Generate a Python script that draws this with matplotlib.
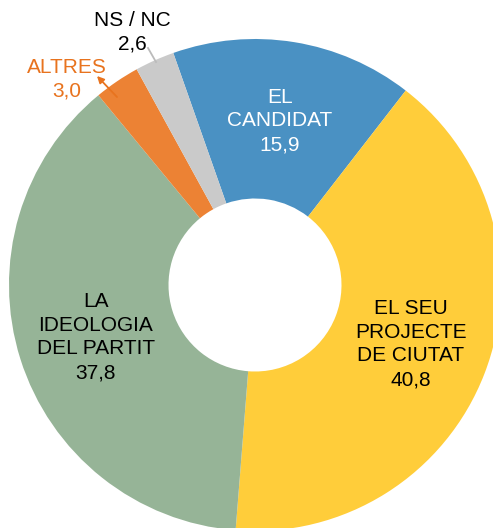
import matplotlib.pyplot as plt

labels = ['EL\nCANDIDAT', 'EL SEU\nPROJECTE\nDE CIUTAT', 'LA\nIDEOLOGIA\nDEL PARTIT', 'ALTRES', 'NS / NC']
values = [15.9, 40.8, 37.8, 3.0, 2.6]
colors = ['#4A91C3', '#FFCD3A', '#96B497', '#EC8234', '#CACACA']

plt.rcParams['font.family'] = ['Liberation Sans', 'DejaVu Sans']

fig = plt.figure(figsize=(4.93, 5.28), dpi=100)
ax = fig.add_axes([0, 0, 1, 1])

H = 528
cx, cy, r = 255, H - 285, 246
ax.pie(values, colors=colors, startangle=109.4, counterclock=False,
       center=(cx, cy), radius=r, frame=True,
       wedgeprops=dict(width=r - 86.5, linewidth=0))
ax.set_xlim(0, 493)
ax.set_ylim(0, 528)
ax.set_aspect('equal')
ax.axis('off')

def val(v):
    return f'{v:.1f}'.replace('.', ',')

fs = 15
ls = 1.32
ax.text(280, H - 121, labels[0] + '\n' + val(values[0]), color='white', fontsize=fs,
        ha='center', va='center', linespacing=ls)
ax.text(411, H - 344, labels[1] + '\n' + val(values[1]), color='black', fontsize=fs,
        ha='center', va='center', linespacing=ls)
ax.text(96, H - 337, labels[2] + '\n' + val(values[2]), color='black', fontsize=fs,
        ha='center', va='center', linespacing=ls)

ax.text(67, H - 79, labels[3] + '\n' + val(values[3]),
        color='#E8731E', fontsize=fs, ha='center', va='center', linespacing=ls)
ax.annotate('', xy=(97, H - 76), xytext=(117, H - 97),
            arrowprops=dict(arrowstyle='-|>', color='#E8731E', lw=1.3, mutation_scale=10,
                            shrinkA=0, shrinkB=0))
ax.text(132, H - 32, labels[4] + '\n' + val(values[4]), color='black', fontsize=fs,
        ha='center', va='center', linespacing=ls)
ax.plot([148, 156], [H - 48, H - 62], color='#BBBBBB', lw=1.3)

fig.savefig('out.png', dpi=100)
